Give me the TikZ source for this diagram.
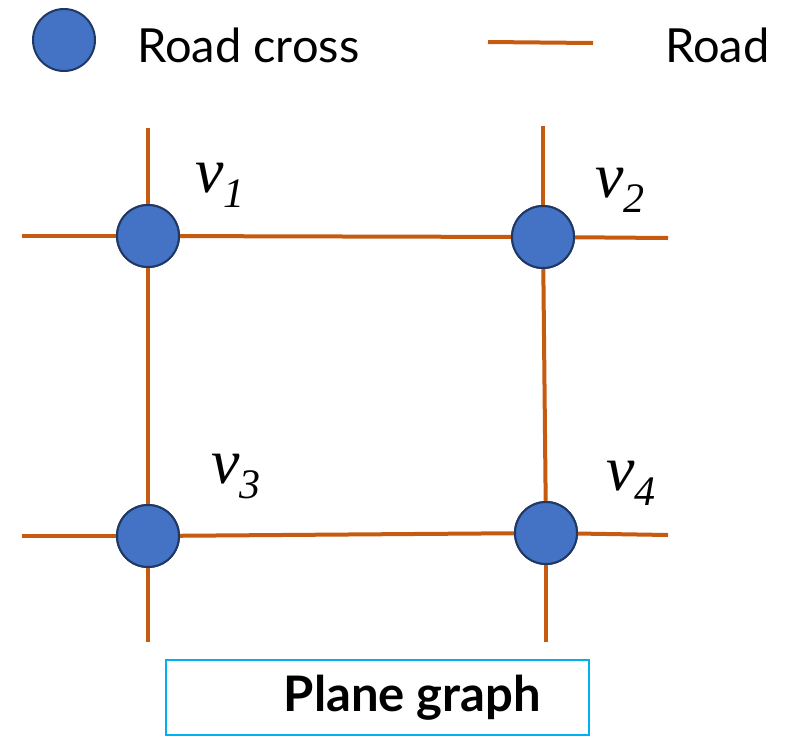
\documentclass[tikz,border=0pt]{standalone}
\usepackage{fontspec}
\setmainfont{Liberation Serif}
\newfontfamily\legendfont{Lato}
\usetikzlibrary{positioning}
\definecolor{roadc}{HTML}{C55A11}
\definecolor{crossfill}{HTML}{4472C4}
\definecolor{crossline}{HTML}{1F3864}
\definecolor{boxline}{HTML}{00B0F0}
\newcommand\vname[1]{{\fontsize{64}{64}\selectfont\itshape v}%
  \raisebox{-15pt}{\fontsize{42}{42}\selectfont\itshape #1}}
\tikzset{
  cross/.style = {draw=crossline, circle, fill=crossfill, line width=2pt,
                  minimum size=62pt, inner sep=0pt},
  road/.style  = {draw=roadc, line width=4pt},
  lgd/.style   = {font=\legendfont\fontsize{47}{47}\selectfont,
                  anchor=base west, inner sep=0pt},
  vlbl/.style  = {anchor=base west, inner sep=0pt},
  capbox/.style= {draw=boxline, line width=2pt, minimum width=423pt,
                  minimum height=75pt, inner sep=0pt,
                  font=\legendfont\fontsize{49}{49}\selectfont\bfseries}
}

\begin{document}
\begin{tikzpicture}[x=1pt, y=-1pt]
  \useasboundingbox (0,0) rectangle (795,740);

  % ── Legend ────────────────────────────────────────────────────────────────
  \node[cross] (lgCross) at (64,40) {};
  \node[lgd]   (lgCrossTxt) at (137,62) {Road cross};
  \coordinate (lgRoadA) at (488,42);
  \coordinate (lgRoadB) at (593,43);
  \node[lgd]   (lgRoadTxt) at (665,62) {Road};
  \draw[road] (lgRoadA) -- (lgRoadB);

  % ── Road crosses ──────────────────────────────────────────────────────────
  \node[cross] (v1) at (148,236) {};
  \node[cross] (v2) at (543,237) {};
  \node[cross] (v3) at (148,536) {};
  \node[cross] (v4) at (546,533) {};

  % ── Free road ends ────────────────────────────────────────────────────────
  \coordinate (v1n) at (148,128);
  \coordinate (v1w) at (22,236);
  \coordinate (v2n) at (543,126);
  \coordinate (v2e) at (668,238);
  \coordinate (v3w) at (22,536);
  \coordinate (v3s) at (148,642);
  \coordinate (v4e) at (668,535);
  \coordinate (v4s) at (546,642);

  % ── Roads ─────────────────────────────────────────────────────────────────
  \draw[road] (v1n) -- (v1);
  \draw[road] (v1w) -- (v1);
  \draw[road] (v1)  -- (v2);
  \draw[road] (v1)  -- (v3);
  \draw[road] (v2n) -- (v2);
  \draw[road] (v2)  -- (v2e);
  \draw[road] (v2)  -- (v4);
  \draw[road] (v3w) -- (v3);
  \draw[road] (v3)  -- (v4);
  \draw[road] (v3)  -- (v3s);
  \draw[road] (v4)  -- (v4e);
  \draw[road] (v4)  -- (v4s);

  % redraw crosses on top of the roads
  \foreach \c in {v1,v2,v3,v4}
    \node[cross] at (\c) {};

  % ── Vertex labels ─────────────────────────────────────────────────────────
  \node[vlbl] (l1) at (195,192) {\vname{1}};
  \node[vlbl] (l2) at (595,197) {\vname{2}};
  \node[vlbl] (l3) at (211,483) {\vname{3}};
  \node[vlbl] (l4) at (606,490) {\vname{4}};

  % ── Caption ───────────────────────────────────────────────────────────────
  \node[capbox] (caption) at (377.5,697.5) {\hspace*{70pt}Plane graph};

\end{tikzpicture}
\end{document}
